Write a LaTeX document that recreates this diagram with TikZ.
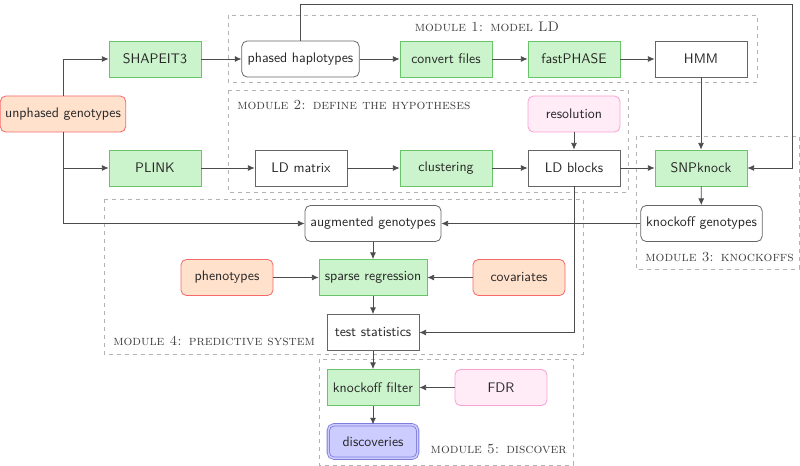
\documentclass[tikz,border=0pt]{standalone}
\usetikzlibrary{arrows.meta}
\definecolor{gfill}{RGB}{204,244,204}
\definecolor{gdraw}{RGB}{105,195,105}
\definecolor{ofill}{RGB}{255,225,204}
\definecolor{odraw}{RGB}{245,105,105}
\definecolor{pfill}{RGB}{255,236,246}
\definecolor{pdraw}{RGB}{250,160,210}
\definecolor{bfill}{RGB}{204,204,255}
\definecolor{bdraw}{RGB}{125,125,220}
\tikzset{
  box/.style={draw=black!60, line width=0.6pt, minimum width=69pt, minimum height=27pt, inner sep=2pt, font=\fontsize{10.4}{12}\sffamily, text=black!85},
  wbox/.style={box},
  rbox/.style={box, rounded corners=4pt},
  gbox/.style={box, fill=gfill, draw=gdraw},
  obox/.style={box, rounded corners=4pt, fill=ofill, draw=odraw},
  pbox/.style={box, rounded corners=4pt, fill=pfill, draw=pdraw},
  bbox/.style={box, rounded corners=4pt, fill=bfill, draw=bdraw, double=bfill, double distance=1.2pt},
  arr/.style={draw=black!70, line width=0.6pt, -{Latex[length=5pt,width=4.5pt]}},
  module/.style={draw=black!30, dashed, line width=0.5pt},
  modlabel/.style={font=\fontsize{10.4}{12}\scshape, text=black!75, inner sep=0pt}
}
\begin{document}
\begin{tikzpicture}[x=0.75pt,y=-0.75pt]
\useasboundingbox (0,0) rectangle (800,466);
% module boxes
\draw[module] (228,15) rectangle (757,82);
\node[modlabel] (m1) at (487,27) {module 1: model LD};
\draw[module] (228,90) rectangle (628,192);
\node[modlabel, anchor=west] (m2) at (237,105) {module 2: define the hypotheses};
\draw[module] (636,136) rectangle (799,269);
\node[modlabel, anchor=east] (m3) at (794,257) {module 3: knockoffs};
\draw[module] (104,199) rectangle (583,354);
\node[modlabel, anchor=west] (m4) at (113,341) {module 4: predictive system};
\draw[module] (319,359) rectangle (573,465);
\node[modlabel, anchor=east] (m5) at (567,449) {module 5: discover};
% nodes
\node[obox, minimum width=94pt] (unph) at (63,114) {unphased genotypes};
\node[gbox] (shape) at (155,59) {SHAPEIT3};
\node[gbox] (plink) at (155,168) {PLINK};
\node[rbox, minimum width=88pt] (phased) at (300.5,59) {phased haplotypes};
\node[wbox] (ldm) at (301,168) {LD matrix};
\node[gbox] (conv) at (446,59) {convert files};
\node[gbox] (fast) at (574,59) {fastPHASE};
\node[wbox] (hmm) at (701,59) {HMM};
\node[gbox] (clust) at (446,168) {clustering};
\node[wbox] (ldb) at (574,168) {LD blocks};
\node[pbox] (res) at (574,114) {resolution};
\node[gbox] (snp) at (701,168) {SNPknock};
\node[rbox, minimum width=91pt] (kog) at (701.5,223.5) {knockoff genotypes};
\node[rbox, minimum width=102pt] (aug) at (373,223.5) {augmented genotypes};
\node[obox] (pheno) at (227,277.5) {phenotypes};
\node[gbox, minimum width=81pt] (sparse) at (373,277.5) {sparse regression};
\node[obox] (cov) at (519,277.5) {covariates};
\node[wbox] (test) at (373,332.5) {test statistics};
\node[gbox] (kof) at (373,387.5) {knockoff filter};
\node[pbox] (fdr) at (501,387.5) {FDR};
\node[bbox, minimum width=67pt, minimum height=25pt] (disc) at (373,441.5) {discoveries};
\coordinate (c1) at (792,4);
% connectors
\draw[arr] (unph.north) |- (shape.west);
\draw[arr] (unph.south) |- (plink.west);
\draw[arr] (unph.south) |- (aug.west);
\draw[arr] (shape) -- (phased);
\draw[arr] (phased) -- (conv);
\draw[arr] (conv) -- (fast);
\draw[arr] (fast) -- (hmm);
\draw[arr] (phased.north) |- (c1) |- (snp.east);
\draw[arr] (hmm) -- (snp);
\draw[arr] (plink) -- (ldm);
\draw[arr] (ldm) -- (clust);
\draw[arr] (clust) -- (ldb);
\draw[arr] (ldb) -- (snp);
\draw[arr] (res) -- (ldb);
\draw[arr] (ldb.south) |- (test.east);
\draw[arr] (snp) -- (kog);
\draw[arr] (kog) -- (aug);
\draw[arr] (aug) -- (sparse);
\draw[arr] (pheno) -- (sparse);
\draw[arr] (cov) -- (sparse);
\draw[arr] (sparse) -- (test);
\draw[arr] (test) -- (kof);
\draw[arr] (fdr) -- (kof);
\draw[arr] (kof) -- (disc);
\end{tikzpicture}
\end{document}
